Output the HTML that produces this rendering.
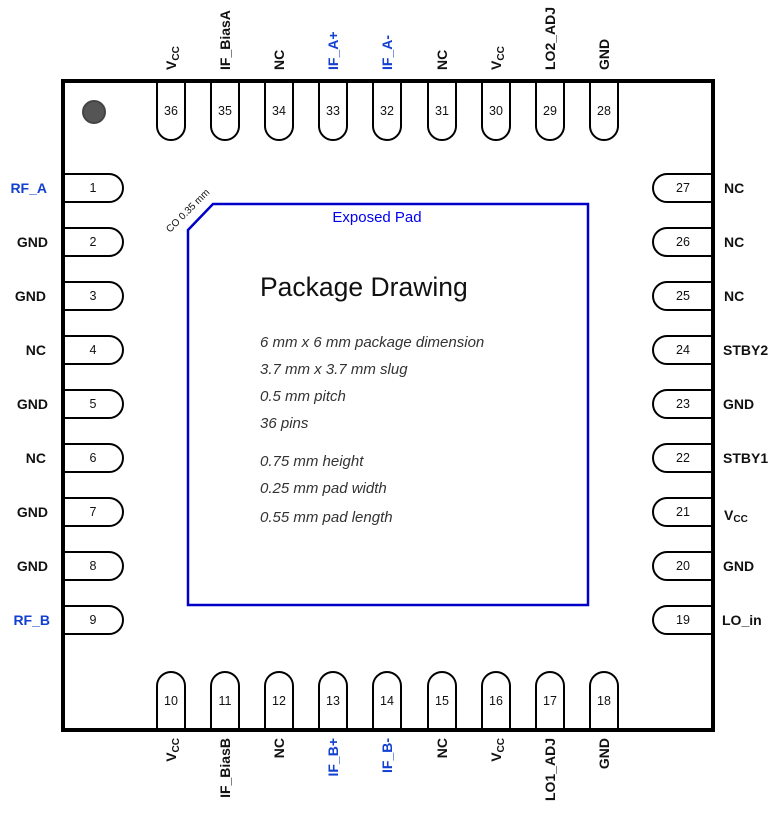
<!DOCTYPE html>
<html><head><meta charset="utf-8"><style>
html,body{margin:0;padding:0;background:#fff;}
svg{display:block;font-family:"Liberation Sans",Arial,sans-serif;}
.n{font-size:12.5px;text-anchor:middle;fill:#111;}
.l{font-size:14px;font-weight:bold;fill:#111;}
.b{fill:#1240d0;}
.p{fill:#fff;stroke:#000;stroke-width:2;}
.i{font-size:15px;font-style:italic;fill:#333;}
</style></head><body>
<svg width="782" height="820" viewBox="0 0 782 820" xmlns="http://www.w3.org/2000/svg">
<rect x="63" y="81" width="650" height="649" fill="#fff"/>
<circle cx="94" cy="112" r="11" fill="#555" stroke="#444" stroke-width="2"/>
<g class="p">
<path d="M157 81V126A14 14 0 0 0 185 126V81"/>
<path d="M211 81V126A14 14 0 0 0 239 126V81"/>
<path d="M265 81V126A14 14 0 0 0 293 126V81"/>
<path d="M319 81V126A14 14 0 0 0 347 126V81"/>
<path d="M373 81V126A14 14 0 0 0 401 126V81"/>
<path d="M428 81V126A14 14 0 0 0 456 126V81"/>
<path d="M482 81V126A14 14 0 0 0 510 126V81"/>
<path d="M536 81V126A14 14 0 0 0 564 126V81"/>
<path d="M590 81V126A14 14 0 0 0 618 126V81"/>
<path d="M157 730V686A14 14 0 0 1 185 686V730"/>
<path d="M211 730V686A14 14 0 0 1 239 686V730"/>
<path d="M265 730V686A14 14 0 0 1 293 686V730"/>
<path d="M319 730V686A14 14 0 0 1 347 686V730"/>
<path d="M373 730V686A14 14 0 0 1 401 686V730"/>
<path d="M428 730V686A14 14 0 0 1 456 686V730"/>
<path d="M482 730V686A14 14 0 0 1 510 686V730"/>
<path d="M536 730V686A14 14 0 0 1 564 686V730"/>
<path d="M590 730V686A14 14 0 0 1 618 686V730"/>
<path d="M63 174H109A14 14 0 0 1 109 202H63"/>
<path d="M63 228H109A14 14 0 0 1 109 256H63"/>
<path d="M63 282H109A14 14 0 0 1 109 310H63"/>
<path d="M63 336H109A14 14 0 0 1 109 364H63"/>
<path d="M63 390H109A14 14 0 0 1 109 418H63"/>
<path d="M63 444H109A14 14 0 0 1 109 472H63"/>
<path d="M63 498H109A14 14 0 0 1 109 526H63"/>
<path d="M63 552H109A14 14 0 0 1 109 580H63"/>
<path d="M63 606H109A14 14 0 0 1 109 634H63"/>
<path d="M713 174H667A14 14 0 0 0 667 202H713"/>
<path d="M713 228H667A14 14 0 0 0 667 256H713"/>
<path d="M713 282H667A14 14 0 0 0 667 310H713"/>
<path d="M713 336H667A14 14 0 0 0 667 364H713"/>
<path d="M713 390H667A14 14 0 0 0 667 418H713"/>
<path d="M713 444H667A14 14 0 0 0 667 472H713"/>
<path d="M713 498H667A14 14 0 0 0 667 526H713"/>
<path d="M713 552H667A14 14 0 0 0 667 580H713"/>
<path d="M713 606H667A14 14 0 0 0 667 634H713"/>
</g>
<rect x="63" y="81" width="650" height="649" fill="none" stroke="#000" stroke-width="4"/>
<g class="n">
<text x="171" y="115">36</text><text x="225" y="115">35</text><text x="279" y="115">34</text><text x="333" y="115">33</text><text x="387" y="115">32</text><text x="442" y="115">31</text><text x="496" y="115">30</text><text x="550" y="115">29</text><text x="604" y="115">28</text>
<text x="171" y="705">10</text><text x="225" y="705">11</text><text x="279" y="705">12</text><text x="333" y="705">13</text><text x="387" y="705">14</text><text x="442" y="705">15</text><text x="496" y="705">16</text><text x="550" y="705">17</text><text x="604" y="705">18</text>
<text x="93" y="192">1</text><text x="93" y="246">2</text><text x="93" y="300">3</text><text x="93" y="354">4</text><text x="93" y="408">5</text><text x="93" y="462">6</text><text x="93" y="516">7</text><text x="93" y="570">8</text><text x="93" y="624">9</text>
<text x="683" y="192">27</text><text x="683" y="246">26</text><text x="683" y="300">25</text><text x="683" y="354">24</text><text x="683" y="408">23</text><text x="683" y="462">22</text><text x="683" y="516">21</text><text x="683" y="570">20</text><text x="683" y="624">19</text>
</g>
<g class="l" text-anchor="end">
<text x="47" y="193" class="l b">RF_A</text>
<text x="48" y="247">GND</text><text x="46" y="301">GND</text><text x="46" y="355">NC</text><text x="48" y="409">GND</text><text x="46" y="463">NC</text><text x="48" y="517">GND</text><text x="48" y="571">GND</text>
<text x="50" y="625" class="l b">RF_B</text>
</g>
<g class="l">
<text x="724" y="193">NC</text><text x="724" y="247">NC</text><text x="724" y="301">NC</text><text x="723" y="355">STBY2</text><text x="723" y="409">GND</text><text x="723" y="463">STBY1</text>
<text x="724" y="520">V<tspan font-size="10" dy="2">CC</tspan></text>
<text x="723" y="571">GND</text><text x="722" y="625">LO_in</text>
</g>
<g class="l">
<text transform="translate(176,70) rotate(-90)">V<tspan font-size="10" dy="3">CC</tspan></text>
<text transform="translate(230,70) rotate(-90)">IF_BiasA</text>
<text transform="translate(284,70) rotate(-90)">NC</text>
<text transform="translate(338,70) rotate(-90)" class="l b">IF_A+</text>
<text transform="translate(392,70) rotate(-90)" class="l b">IF_A-</text>
<text transform="translate(447,70) rotate(-90)">NC</text>
<text transform="translate(501,70) rotate(-90)">V<tspan font-size="10" dy="3">CC</tspan></text>
<text transform="translate(555,70) rotate(-90)">LO2_ADJ</text>
<text transform="translate(609,70) rotate(-90)">GND</text>
</g>
<g class="l" text-anchor="end">
<text transform="translate(176,738) rotate(-90)">V<tspan font-size="10" dy="3">CC</tspan></text>
<text transform="translate(230,738) rotate(-90)">IF_BiasB</text>
<text transform="translate(284,738) rotate(-90)">NC</text>
<text transform="translate(338,738) rotate(-90)" class="l b">IF_B+</text>
<text transform="translate(392,738) rotate(-90)" class="l b">IF_B-</text>
<text transform="translate(447,738) rotate(-90)">NC</text>
<text transform="translate(501,738) rotate(-90)">V<tspan font-size="10" dy="3">CC</tspan></text>
<text transform="translate(555,738) rotate(-90)">LO1_ADJ</text>
<text transform="translate(609,738) rotate(-90)">GND</text>
</g>
<path d="M188 230L213 204H588V605H188Z" fill="none" stroke="#0000c8" stroke-width="2.5"/>
<text x="377" y="222" font-size="15" fill="#0000ee" text-anchor="middle">Exposed Pad</text>
<text transform="translate(170,233) rotate(-45)" font-size="10" fill="#111">CO 0.35 mm</text>
<text x="260" y="296" font-size="26.5" fill="#111">Package Drawing</text>
<g class="i">
<text x="260" y="347">6  mm x 6 mm package dimension</text>
<text x="260" y="374">3.7 mm  x 3.7 mm slug</text>
<text x="260" y="401">0.5 mm pitch</text>
<text x="260" y="428">36 pins</text>
<text x="260" y="466">0.75 mm height</text>
<text x="260" y="493">0.25 mm pad width</text>
<text x="260" y="522">0.55 mm pad length</text>
</g>
</svg>
</body></html>
